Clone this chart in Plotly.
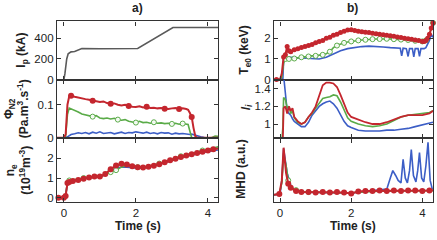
import plotly.graph_objects as go

# ---------------- data ----------------
t_ip = [-0.2, 0.0, 0.03, 0.08, 0.12, 0.2, 0.3, 0.4, 0.5, 1.0, 1.5, 2.05, 3.03, 3.5, 4.0, 4.3]
ip = [0, 0, 60, 200, 250, 268, 272, 285, 300, 298, 298, 300, 500, 498, 500, 500]

t_phi = [-0.2, -0.1, 0.0, 0.05, 0.1, 0.15, 0.2, 0.3, 0.4, 0.5,
         0.6, 0.7, 0.8, 0.9, 1.0, 1.1, 1.2, 1.3, 1.4, 1.5,
         1.6, 1.7, 1.8, 1.9, 2.0, 2.1, 2.2, 2.3, 2.4, 2.5,
         2.6, 2.7, 2.8, 2.9, 3.0, 3.1, 3.2, 3.3, 3.4, 3.45,
         3.5, 3.55, 3.6, 3.65, 3.7, 3.8, 3.9, 4.0, 4.1, 4.2, 4.3]
phi_red = [0, 0, 0, 0.01, 0.1, 0.126, 0.127, 0.124, 0.121, 0.12,
           0.117, 0.115, 0.112, 0.11, 0.108, 0.11, 0.105, 0.103, 0.104, 0.1,
           0.098, 0.1, 0.096, 0.094, 0.093, 0.095, 0.092, 0.094, 0.09, 0.091,
           0.089, 0.09, 0.088, 0.087, 0.089, 0.09, 0.087, 0.089, 0.087, 0.085,
           0.075, 0.063, 0.03, 0.005, 0, 0, 0, 0, 0, 0, 0]
phi_green = [0, 0, 0, 0.005, 0.07, 0.09, 0.088, 0.082, 0.078, 0.072,
             0.07, 0.066, 0.064, 0.067, 0.06, 0.058, 0.06, 0.057, 0.059, 0.055,
             0.053, 0.055, 0.05, 0.048, 0.046, 0.05, 0.046, 0.047, 0.044, 0.047,
             0.044, 0.045, 0.043, 0.044, 0.042, 0.044, 0.041, 0.043, 0.042, 0.04,
             0.02, 0.0, 0, 0, 0, 0, 0, 0, 0, 0.005, 0.004]
phi_blue = [0, 0, 0, 0, 0.003, 0.008, 0.01, 0.012, 0.015, 0.013,
            0.016, 0.012, 0.017, 0.014, 0.018, 0.013, 0.015, 0.016, 0.012, 0.014,
            0.017, 0.013, 0.016, 0.015, 0.018, 0.016, 0.014, 0.017, 0.013, 0.015,
            0.012, 0.016, 0.014, 0.015, 0.011, 0.014, 0.012, 0.013, 0.011, 0.012,
            0.01, 0.011, 0.009, 0.008, 0.006, 0.003, 0.001, 0, 0, 0, 0]

t_ne = [-0.2, -0.15, 0.0, 0.05, 0.1, 0.15, 0.25, 0.4, 0.55, 0.7,
        0.85, 1.0, 1.15, 1.3, 1.45, 1.6, 1.75, 1.9, 2.05, 2.2,
        2.35, 2.5, 2.65, 2.8, 2.95, 3.1, 3.25, 3.4, 3.55, 3.7,
        3.85, 4.0, 4.15, 4.3]
ne_red = [0, 0, 0, 0.1, 0.75, 0.8, 0.85, 0.9, 0.97, 1.03,
          1.08, 1.08, 1.2, 1.45, 1.63, 1.72, 1.68, 1.6, 1.55, 1.53,
          1.57, 1.62, 1.7, 1.8, 1.9, 1.98, 2.06, 2.14, 2.2, 2.27,
          2.33, 2.39, 2.45, 2.5]
ne_green = [0, 0, 0, 0.1, 0.8, 0.88, 0.92, 0.95, 1.0, 1.05,
            1.08, 1.1, 1.15, 1.3, 1.4, 1.55, 1.65, 1.6, 1.55, 1.56,
            1.6, 1.66, 1.73, 1.83, 1.93, 2.02, 2.1, 2.18, 2.25, 2.32,
            2.39, 2.45, 2.52, 2.58]
ne_blue = [0, 0, 0, 0.1, 0.78, 0.82, 0.86, 0.9, 0.96, 1.02,
           1.06, 1.08, 1.15, 1.35, 1.5, 1.56, 1.55, 1.52, 1.5, 1.52,
           1.56, 1.62, 1.7, 1.79, 1.88, 1.96, 2.03, 2.1, 2.17, 2.23,
           2.29, 2.34, 2.38, 2.42]

t_te = [-0.2, -0.1, 0.0, 0.05, 0.1, 0.15, 0.2, 0.25, 0.3, 0.4,
        0.5, 0.6, 0.7, 0.8, 0.9, 1.0, 1.1, 1.2, 1.3, 1.4,
        1.5, 1.6, 1.7, 1.8, 1.9, 2.0, 2.1, 2.2, 2.3, 2.4,
        2.5, 2.6, 2.7, 2.8, 2.9, 3.0, 3.1, 3.2, 3.3, 3.4,
        3.5, 3.6, 3.7, 3.8, 3.9, 4.0, 4.05, 4.1, 4.15, 4.2,
        4.25, 4.3]
te_red = [0, 0, 0, 0.3, 1.1, 1.2, 1.6, 1.4, 1.35, 1.45,
          1.5, 1.55, 1.6, 1.65, 1.7, 1.78, 1.85, 1.9, 2.0, 2.05,
          2.15, 2.2, 2.28, 2.35, 2.4, 2.42, 2.38, 2.35, 2.32, 2.3,
          2.28, 2.25, 2.22, 2.2, 2.18, 2.15, 2.12, 2.1, 2.07, 2.04,
          2.0, 1.98, 1.95, 1.92, 1.9, 1.85, 1.85, 1.9, 2.0, 2.2,
          2.5, 2.75]
te_green = [0, 0, 0, 0.1, 0.8, 1.0, 1.02, 1.0, 1.0, 1.02,
            1.05, 1.08, 1.1, 1.12, 1.15, 1.15, 1.18, 1.2, 1.25, 1.35,
            1.55, 1.65, 1.72, 1.78, 1.82, 1.85, 1.88, 1.9, 1.92, 1.93,
            1.95, 1.96, 1.97, 1.97, 1.98, 1.98, 1.97, 1.96, 1.95, 1.94,
            1.93, 1.92, 1.9, 1.88, 1.87, 1.85, 1.85, 1.9, 2.0, 2.2,
            2.5, 2.75]
t_te_b = [-0.2, 0.0, 0.08, 0.1, 0.15, 0.3, 0.5, 0.7, 0.9, 1.1,
          1.3, 1.5, 1.7, 1.9, 2.1, 2.3, 2.5, 2.7, 2.9, 3.1,
          3.3, 3.38, 3.42, 3.46, 3.55, 3.6, 3.64, 3.72, 3.76, 3.8,
          3.88, 3.92, 3.96, 4.05, 4.1, 4.15, 4.2, 4.25, 4.3]
te_blue = [0, 0, 0.05, 0.9, 1.05, 1.08, 1.06, 1.05, 1.04, 1.0,
           1.08, 1.25, 1.4, 1.5, 1.56, 1.6, 1.62, 1.61, 1.58, 1.55,
           1.52, 1.52, 1.15, 1.52, 1.5, 1.12, 1.5, 1.5, 1.1, 1.5,
           1.5, 1.12, 1.5, 1.5, 1.55, 1.7, 1.9, 2.2, 2.05]

t_li = [0.05, 0.08, 0.1, 0.15, 0.2, 0.25, 0.3, 0.35, 0.4, 0.5,
        0.6, 0.7, 0.8, 0.9, 1.0, 1.1, 1.2, 1.3, 1.4, 1.5,
        1.6, 1.7, 1.8, 1.9, 2.0, 2.2, 2.4, 2.6, 2.8, 3.0,
        3.2, 3.4, 3.6, 3.8, 4.0, 4.2, 4.3]
li_red = [0.8, 0.85, 1.18, 1.2, 1.12, 1.2, 1.15, 1.18, 1.08, 1.03,
          1.0, 1.02, 1.08, 1.13, 1.2, 1.32, 1.44, 1.47, 1.47, 1.46,
          1.42, 1.33, 1.22, 1.13, 1.08, 1.05, 1.02, 1.0, 1.0, 1.02,
          1.05, 1.08, 1.1, 1.1, 1.1, 1.12, 1.15]
li_green = [0.8, 0.97, 1.3, 1.28, 1.18, 1.2, 1.12, 1.15, 1.07, 1.02,
            1.0, 1.02, 1.08, 1.12, 1.18, 1.24, 1.29, 1.3, 1.31, 1.33,
            1.32, 1.25, 1.15, 1.07, 1.03, 1.0, 0.98, 0.97, 0.98, 1.0,
            1.04, 1.08, 1.1, 1.11, 1.12, 1.13, 1.15]
li_blue = [1.6, 1.6, 1.55, 1.3, 1.15, 1.12, 1.1, 1.06, 1.03, 1.0,
           0.97, 0.97, 1.02, 1.1, 1.15, 1.2, 1.23, 1.25, 1.26, 1.23,
           1.18, 1.1, 1.03, 0.98, 0.96, 0.93, 0.92, 0.92, 0.92, 0.93,
           0.93, 0.94, 0.95, 0.97, 0.99, 1.01, 1.02]

t_mhd = [-0.24, -0.02, 0.05, 0.1, 0.17, 0.23, 0.3, 0.45, 0.6, 0.8,
         1.0, 1.2, 1.4, 1.6, 1.8, 2.0, 2.2, 2.4, 2.6, 2.8,
         3.0, 3.2, 3.4, 3.6, 3.8, 4.0, 4.2, 4.35]
mhd_red = [0, 0.02, 0.3, 0.97, 0.45, 0.23, 0.15, 0.08, 0.06, 0.06,
           0.05, 0.06, 0.05, 0.06, 0.05, 0.03, 0.07, 0.08, 0.08, 0.09,
           0.08, 0.09, 0.08, 0.09, 0.09, 0.08, 0.09, 0.1]
mhd_green = [0, 0.02, 0.25, 0.85, 0.6, 0.3, 0.15, 0.1, 0.07, 0.06,
             0.05, 0.05, 0.05, 0.05, 0.05, 0.04, 0.06, 0.07, 0.07, 0.08,
             0.08, 0.08, 0.08, 0.08, 0.08, 0.08, 0.09, 0.09]
t_mhd_b = [-0.2, 0.0, 0.05, 0.1, 0.15, 0.2, 0.3, 0.4, 0.6, 1.0,
           1.5, 2.0, 2.5, 2.9, 3.0, 3.1, 3.17, 3.25, 3.32, 3.4,
           3.46, 3.52, 3.58, 3.64, 3.69, 3.75, 3.82, 3.87, 3.92, 3.98,
           4.04, 4.1, 4.16, 4.22, 4.28]
mhd_blue = [0, 0.02, 0.3, 0.95, 0.7, 0.45, 0.2, 0.1, 0.06, 0.05,
            0.05, 0.04, 0.08, 0.1, 0.12, 0.35, 0.5, 0.4, 0.3, 0.25,
            0.73, 0.35, 0.25, 0.5, 0.93, 0.4, 0.27, 0.5, 0.87, 0.35,
            0.27, 0.6, 1.08, 0.3, 0.12]

x_ticks = [0, 2, 4]

# ---------------- styling ----------------
RED = '#c4262e'
GREEN = '#5aab48'
BLUE = '#3c5ec6'
GREY = '#5a5a5a'
AX = '#333333'
FONT = 'Liberation Sans, Arial, sans-serif'

fig = go.Figure()


def ax_names(n):
    return ('x' if n == 1 else 'x%d' % n), ('y' if n == 1 else 'y%d' % n)


def line(n, t, y, color, width):
    xa, ya = ax_names(n)
    fig.add_trace(go.Scatter(x=t, y=y, mode='lines', xaxis=xa, yaxis=ya,
                             line=dict(color=color, width=width),
                             showlegend=False, hoverinfo='skip'))


def marks(n, t, y, idx, color, filled, size=6):
    xa, ya = ax_names(n)
    fig.add_trace(go.Scatter(x=[t[i] for i in idx], y=[y[i] for i in idx],
                             mode='markers', xaxis=xa, yaxis=ya,
                             marker=dict(size=size, color=color if filled else 'rgba(255,255,255,0.9)',
                                         line=dict(color=color, width=1 if not filled else 0)),
                             showlegend=False, hoverinfo='skip', cliponaxis=False))


# panel 1: Ip
line(1, t_ip, ip, GREY, 1.6)

# panel 2: Phi
line(2, t_phi, phi_blue, BLUE, 1.6)
line(2, t_phi, phi_green, GREEN, 1.6)
marks(2, t_phi, phi_green, [12, 19, 24, 29, 34, 37], GREEN, False, 5)
line(2, t_phi, phi_red, RED, 2)
marks(2, t_phi, phi_red, [0, 6, 12, 17, 22, 27, 32, 36, 41], RED, True, 6)

# panel 3: ne
line(3, t_ne, ne_blue, BLUE, 1.6)
line(3, t_ne, ne_green, GREEN, 1.6)
marks(3, t_ne, ne_green, [5, 8, 13, 14, 18, 22, 26, 30, 33], GREEN, False, 5)
line(3, t_ne, ne_red, RED, 2)
marks(3, t_ne, ne_red, list(range(1, len(t_ne))), RED, True, 6)

# panel 4: Te0
line(4, t_te_b, te_blue, BLUE, 1.6)
line(4, t_te, te_green, GREEN, 1.6)
marks(4, t_te, te_green, list(range(5, len(t_te) - 4, 2)) + [51], GREEN, False, 5)
line(4, t_te, te_red, RED, 2)
marks(4, t_te, te_red, [1] + list(range(4, len(t_te), 1)), RED, True, 5)

# panel 5: li
line(5, t_li, li_blue, BLUE, 1.6)
line(5, t_li, li_green, GREEN, 1.6)
line(5, t_li, li_red, RED, 1.8)

# panel 6: MHD
line(6, t_mhd_b, mhd_blue, BLUE, 1.6)
line(6, t_mhd, mhd_green, GREEN, 1.6)
marks(6, t_mhd, mhd_green, [5, 7, 9], GREEN, False, 5)
line(6, t_mhd, mhd_red, RED, 2)
marks(6, t_mhd, mhd_red, [0, 1, 5, 6, 7] + list(range(8, len(t_mhd))), RED, True, 6)

W, H = 437, 240
xl = [57 / W, 218 / W]
xr = [274 / W, 433 / W]
rows = [[1 - 82 / H, 1 - 22 / H], [1 - 142 / H, 1 - 82 / H], [1 - 207 / H, 1 - 142 / H]]

tickfont = dict(family=FONT, size=11.5, color='#222')
common = dict(showline=True, linecolor=AX, linewidth=1.3, mirror='ticks',
              ticks='inside', ticklen=4, tickwidth=1.2, tickcolor=AX,
              showgrid=False, zeroline=False, tickfont=tickfont)

layout = dict(width=W, height=H, margin=dict(l=0, r=0, t=0, b=0),
              paper_bgcolor='white', plot_bgcolor='white', showlegend=False)

panels = {
    1: dict(x=xl, y=rows[0], xr=[-0.19, 4.28], yr=[0, 558], yt=[0, 200, 400], ytt=['0', '200', '400']),
    2: dict(x=xl, y=rows[1], xr=[-0.19, 4.28], yr=[-0.002, 0.175], yt=[0, 0.1], ytt=['0', '0.1']),
    3: dict(x=xl, y=rows[2], xr=[-0.19, 4.28], yr=[-0.2, 3.0], yt=[0, 1, 2], ytt=['0', '1', '2']),
    4: dict(x=xr, y=rows[0], xr=[-0.17, 4.3], yr=[-0.02, 2.82], yt=[0, 1, 2], ytt=['0', '1', '2']),
    5: dict(x=xr, y=rows[1], xr=[-0.17, 4.3], yr=[0.836, 1.5], yt=[1, 1.2, 1.4], ytt=['1', '1.2', '1.4']),
    6: dict(x=xr, y=rows[2], xr=[-0.17, 4.3], yr=[-0.14, 1.16], yt=[], ytt=[]),
}
for n, p in panels.items():
    xa, ya = ax_names(n)
    xkey = 'xaxis' if n == 1 else 'xaxis%d' % n
    ykey = 'yaxis' if n == 1 else 'yaxis%d' % n
    layout[xkey] = dict(common, domain=p['x'], range=p['xr'], anchor=ya,
                        tickvals=x_ticks, ticktext=[str(v) for v in x_ticks],
                        showticklabels=n in (3, 6))
    yd = dict(common, domain=p['y'], range=p['yr'], anchor=xa,
              tickvals=p['yt'], ticktext=p['ytt'])
    if n == 6:
        yd['ticks'] = ''
        yd['mirror'] = True
        yd['showticklabels'] = False
    layout[ykey] = yd

fig.update_layout(**layout)


def ann(text, x, y, angle=0, size=12):
    fig.add_annotation(text=text, x=x / W, y=1 - y / H, xref='paper', yref='paper',
                       showarrow=False, textangle=angle, xanchor='center', yanchor='middle',
                       font=dict(family=FONT, size=size, color='#222'))


ann('<b>a)</b>', 137, 8)
ann('<b>b)</b>', 352, 8)
ann('<b>Time (s)</b>', 138, 232)
ann('<b>Time (s)</b>', 353, 232)
ann('<b>I<sub>p</sub> (kA)</b>', 22, 52, -90)
ann('<b>Φ<sub>N2</sub></b><br><b>(Pa.m<sup>3</sup>.s<sup>-1</sup>)</b>', 17, 112, -90)
ann('<b>n<sub>e</sub></b><br><b>(10<sup>19</sup>m<sup>-3</sup>)</b>', 18, 175, -90)
ann('<b>T<sub>e0</sub> (keV)</b>', 245, 52, -90)
ann('<b><i>l<sub>i</sub></i></b>', 247, 110, -90)
ann('<b>MHD (a.u.)</b>', 241, 174, -90)

fig.write_html('out.html', config={'displayModeBar': False},
               post_script="document.body.style.margin='0px';document.body.style.overflow='hidden';")
